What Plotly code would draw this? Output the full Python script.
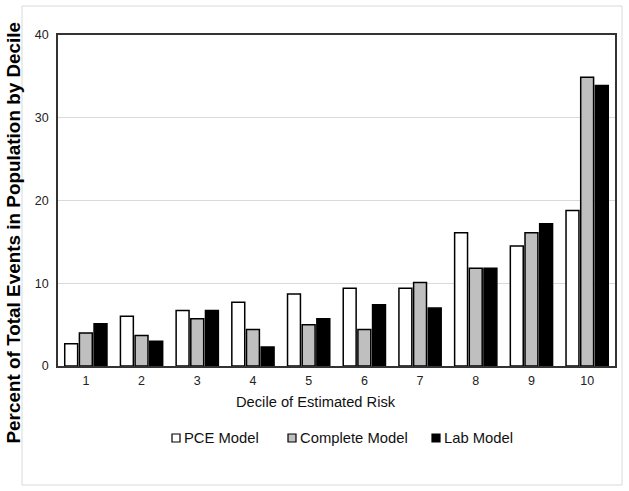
import plotly.graph_objects as go

deciles = ["1", "2", "3", "4", "5", "6", "7", "8", "9", "10"]
pce = [2.7, 6.0, 6.7, 7.7, 8.7, 9.4, 9.4, 16.1, 14.5, 18.8]
complete = [4.0, 3.7, 5.7, 4.4, 5.0, 4.4, 10.1, 11.8, 16.1, 34.9]
lab = [5.1, 3.0, 6.7, 2.3, 5.7, 7.4, 7.0, 11.8, 17.2, 33.9]
series_names = ["PCE Model", "Complete Model", "Lab Model"]
series_colors = ["white", "#bfbfbf", "black"]

font = "Liberation Sans, Arial, sans-serif"
L, R, T, B = 58, 14, 35, 125
PW, PH = 629 - L - R, 491 - T - B


def px(x):
    return (x - L) / PW


def py(y):
    return (T + PH - y) / PH


fig = go.Figure()
for name, vals, col in zip(series_names, [pce, complete, lab], series_colors):
    fig.add_trace(go.Bar(x=deciles, y=vals, name=name,
                         marker=dict(color=col, line=dict(color="black", width=1.5))))

# custom legend (small squares right next to the text, as in the reference)
legend_left = [172, 288, 432]
shapes = [dict(type="rect", xref="paper", yref="paper",
               x0=px(22), x1=px(622), y0=py(485), y1=py(6),
               line=dict(color="#d9d9d9", width=1), layer="below")]
annotations = [
    dict(text="Decile of Estimated Risk", xref="paper", yref="paper",
         x=px(315.5), y=py(402), xanchor="center", yanchor="middle",
         showarrow=False, font=dict(size=14.7, family=font, color="#111")),
    dict(text="<b>Percent of Total Events in Population by Decile</b>", xref="paper", yref="paper",
         x=px(13), y=py(232.5), xanchor="center", yanchor="middle", textangle=-90,
         showarrow=False, font=dict(size=18.9, family=font, color="black")),
]
for name, col, x0 in zip(series_names, series_colors, legend_left):
    shapes.append(dict(type="rect", xref="paper", yref="paper",
                       x0=px(x0), x1=px(x0 + 8), y0=py(442), y1=py(434),
                       fillcolor=col, line=dict(color="black", width=1.2)))
    annotations.append(dict(text=name, xref="paper", yref="paper", x=px(x0 + 10), y=py(438),
                            xanchor="left", yanchor="middle", showarrow=False,
                            font=dict(size=14.8, family=font, color="#111")))

fig.update_layout(
    width=629, height=491,
    margin=dict(l=L, r=R, t=T, b=B, autoexpand=False),
    paper_bgcolor="white", plot_bgcolor="white",
    barmode="group", bargap=0.21, bargroupgap=0.12,
    font=dict(family=font, color="#222", size=12),
    showlegend=False,
    xaxis=dict(showline=True, linecolor="#333", linewidth=1.5, mirror=True, ticks="",
               tickfont=dict(size=12.5, color="#222"), ticklabelstandoff=2),
    yaxis=dict(range=[0, 40], dtick=10, showline=True, linecolor="#333", linewidth=1.5, mirror=True,
               showgrid=True, gridcolor="#d9d9d9", gridwidth=1, zeroline=False, ticks="",
               tickfont=dict(size=12.5, color="#222"), ticklabelstandoff=5),
    annotations=annotations,
    shapes=shapes,
)
fig.write_html("out.html", config={"displayModeBar": False},
               post_script="document.body.style.margin='0';")
